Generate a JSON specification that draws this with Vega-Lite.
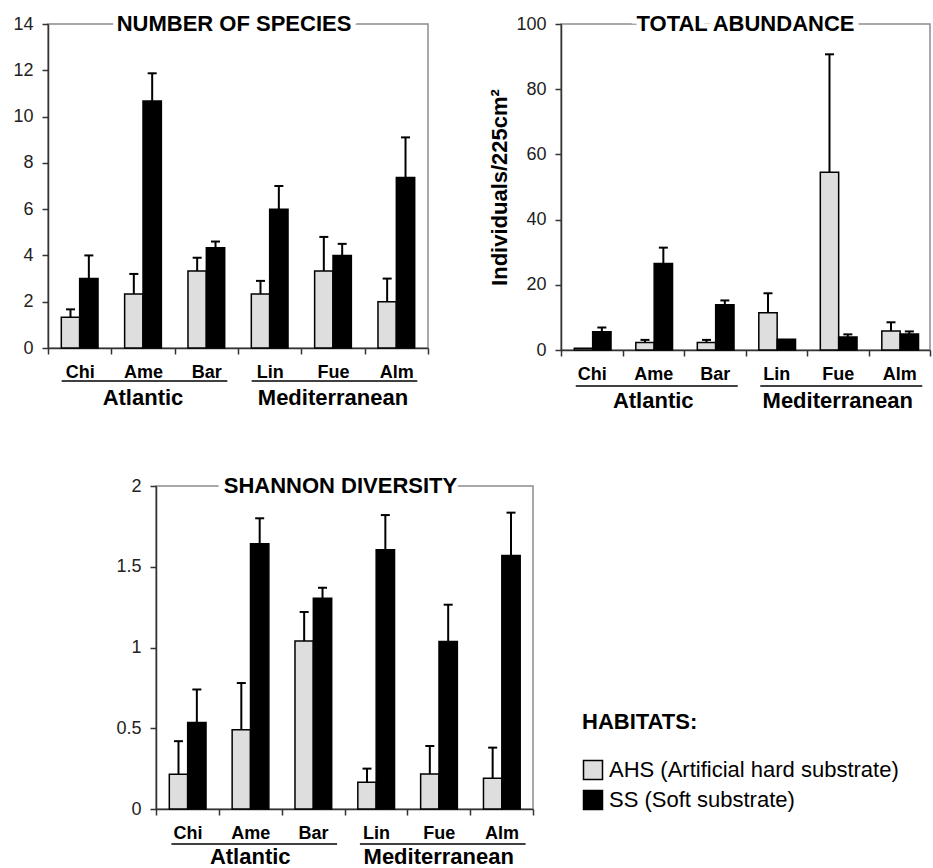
{
  "$schema": "https://vega.github.io/schema/vega-lite/v6.json",
  "background": "white",
  "padding": {"left": 12, "top": 12, "right": 0, "bottom": 0},
  "config": {
    "font": "Liberation Sans",
    "view": {"stroke": "#8c8c8c", "strokeWidth": 1.5},
    "axis": {"domainColor": "#333333", "tickColor": "#333333", "domainWidth": 1.5, "tickWidth": 1.5, "tickSize": 6, "grid": false, "labelColor": "#222222"},
    "axisY": {"labelFontSize": 18, "labelPadding": 9},
    "axisX": {"labelFontSize": 18, "labelFontWeight": "bold", "labelColor": "#000000", "labelPadding": 9, "labelAngle": 0, "tickBand": "extent"}
  },
  "datasets": {
    "bars": [
      {"metric": "species", "site": "Chi", "habitat": "AHS", "mean": 1.33, "upper": 1.67},
      {"metric": "species", "site": "Chi", "habitat": "SS", "mean": 3.0, "upper": 4.0},
      {"metric": "species", "site": "Ame", "habitat": "AHS", "mean": 2.33, "upper": 3.2},
      {"metric": "species", "site": "Ame", "habitat": "SS", "mean": 10.67, "upper": 11.87},
      {"metric": "species", "site": "Bar", "habitat": "AHS", "mean": 3.33, "upper": 3.9},
      {"metric": "species", "site": "Bar", "habitat": "SS", "mean": 4.33, "upper": 4.6},
      {"metric": "species", "site": "Lin", "habitat": "AHS", "mean": 2.33, "upper": 2.9},
      {"metric": "species", "site": "Lin", "habitat": "SS", "mean": 6.0, "upper": 7.0},
      {"metric": "species", "site": "Fue", "habitat": "AHS", "mean": 3.33, "upper": 4.8},
      {"metric": "species", "site": "Fue", "habitat": "SS", "mean": 4.0, "upper": 4.5},
      {"metric": "species", "site": "Alm", "habitat": "AHS", "mean": 2.0, "upper": 3.0},
      {"metric": "species", "site": "Alm", "habitat": "SS", "mean": 7.37, "upper": 9.1},
      {"metric": "abundance", "site": "Chi", "habitat": "AHS", "mean": 0.5, "upper": 0.5},
      {"metric": "abundance", "site": "Chi", "habitat": "SS", "mean": 5.6, "upper": 6.9},
      {"metric": "abundance", "site": "Ame", "habitat": "AHS", "mean": 2.3, "upper": 3.1},
      {"metric": "abundance", "site": "Ame", "habitat": "SS", "mean": 26.5, "upper": 31.4},
      {"metric": "abundance", "site": "Bar", "habitat": "AHS", "mean": 2.3, "upper": 3.1},
      {"metric": "abundance", "site": "Bar", "habitat": "SS", "mean": 13.9, "upper": 15.2},
      {"metric": "abundance", "site": "Lin", "habitat": "AHS", "mean": 11.4, "upper": 17.4},
      {"metric": "abundance", "site": "Lin", "habitat": "SS", "mean": 3.3, "upper": 3.3},
      {"metric": "abundance", "site": "Fue", "habitat": "AHS", "mean": 54.5, "upper": 90.7},
      {"metric": "abundance", "site": "Fue", "habitat": "SS", "mean": 4.0, "upper": 4.8},
      {"metric": "abundance", "site": "Alm", "habitat": "AHS", "mean": 5.8, "upper": 8.5},
      {"metric": "abundance", "site": "Alm", "habitat": "SS", "mean": 4.9, "upper": 5.7},
      {"metric": "shannon", "site": "Chi", "habitat": "AHS", "mean": 0.215, "upper": 0.42},
      {"metric": "shannon", "site": "Chi", "habitat": "SS", "mean": 0.535, "upper": 0.74},
      {"metric": "shannon", "site": "Ame", "habitat": "AHS", "mean": 0.49, "upper": 0.78},
      {"metric": "shannon", "site": "Ame", "habitat": "SS", "mean": 1.643, "upper": 1.8},
      {"metric": "shannon", "site": "Bar", "habitat": "AHS", "mean": 1.04, "upper": 1.22},
      {"metric": "shannon", "site": "Bar", "habitat": "SS", "mean": 1.305, "upper": 1.37},
      {"metric": "shannon", "site": "Lin", "habitat": "AHS", "mean": 0.165, "upper": 0.25},
      {"metric": "shannon", "site": "Lin", "habitat": "SS", "mean": 1.606, "upper": 1.82},
      {"metric": "shannon", "site": "Fue", "habitat": "AHS", "mean": 0.216, "upper": 0.39},
      {"metric": "shannon", "site": "Fue", "habitat": "SS", "mean": 1.037, "upper": 1.265},
      {"metric": "shannon", "site": "Alm", "habitat": "AHS", "mean": 0.19, "upper": 0.38},
      {"metric": "shannon", "site": "Alm", "habitat": "SS", "mean": 1.569, "upper": 1.835}
    ],
    "groups": [
      {"region": "Atlantic", "first": "Chi", "mid": "Ame", "last": "Bar"},
      {"region": "Mediterranean", "first": "Lin", "mid": "Fue", "last": "Alm"}
    ]
  },
  "bounds": "flush",
  "spacing": 462,
  "resolve": {"scale": {"fill": "independent"}},
  "vconcat": [
    {
      "bounds": "flush",
      "spacing": 133,
      "resolve": {"scale": {"fill": "independent"}},
      "hconcat": [
        {
          "width": 380, "height": 324,
          "layer": [
            {"data": {"name": "bars"}, "transform": [{"filter": "datum.metric == 'species'"}],
             "mark": {"type": "bar", "stroke": "#000000", "strokeWidth": 1.5},
             "encoding": {
               "x": {"field": "site", "type": "nominal", "scale": {"domain": ["Chi","Ame","Bar","Lin","Fue","Alm"], "paddingInner": 0, "paddingOuter": 0}, "axis": {"title": null}},
               "xOffset": {"field": "habitat", "type": "nominal", "scale": {"domain": ["AHS","SS"], "paddingInner": 0, "paddingOuter": 0.725}},
               "y": {"field": "mean", "type": "quantitative", "scale": {"domain": [0, 14], "nice": false}, "axis": {"title": null, "values": [0,2,4,6,8,10,12,14]}},
               "fill": {"field": "habitat", "type": "nominal", "scale": {"domain": ["AHS","SS"], "range": ["#dedede","#000000"]}, "legend": null}
             }},
            {"data": {"name": "bars"}, "transform": [{"filter": "datum.metric == 'species' && datum.upper > datum.mean"}],
             "mark": {"type": "rule", "color": "#000000", "strokeWidth": 2},
             "encoding": {
               "x": {"field": "site", "type": "nominal", "scale": {"domain": ["Chi","Ame","Bar","Lin","Fue","Alm"], "paddingInner": 0, "paddingOuter": 0}},
               "xOffset": {"field": "habitat", "type": "nominal", "scale": {"domain": ["AHS","SS"], "paddingInner": 0, "paddingOuter": 0.725}},
               "y": {"field": "mean", "type": "quantitative"},
               "y2": {"field": "upper"}
             }},
            {"data": {"name": "bars"}, "transform": [{"filter": "datum.metric == 'species' && datum.upper > datum.mean"}],
             "mark": {"type": "tick", "color": "#000000", "thickness": 2, "size": 9, "opacity": 1},
             "encoding": {
               "x": {"field": "site", "type": "nominal", "scale": {"domain": ["Chi","Ame","Bar","Lin","Fue","Alm"], "paddingInner": 0, "paddingOuter": 0}},
               "xOffset": {"field": "habitat", "type": "nominal", "scale": {"domain": ["AHS","SS"], "paddingInner": 0, "paddingOuter": 0.725}},
               "y": {"field": "upper", "type": "quantitative"}
             }},
            {"data": {"name": "groups"},
             "mark": {"type": "rule", "color": "#000000", "strokeWidth": 1.5, "xOffset": -18, "x2Offset": 21, "yOffset": 33},
             "encoding": {
               "x": {"field": "first", "type": "nominal", "scale": {"domain": ["Chi","Ame","Bar","Lin","Fue","Alm"], "paddingInner": 0, "paddingOuter": 0}},
               "x2": {"field": "last"},
               "y": {"value": "height"}
             }},
            {"data": {"name": "groups"},
             "mark": {"type": "text", "fontSize": 22, "fontWeight": "bold", "color": "#000000", "baseline": "middle", "yOffset": 50},
             "encoding": {
               "x": {"field": "mid", "type": "nominal", "scale": {"domain": ["Chi","Ame","Bar","Lin","Fue","Alm"], "paddingInner": 0, "paddingOuter": 0}},
               "y": {"value": "height"},
               "text": {"field": "region"}
             }},
            {"data": {"values": [{"t": "NUMBER OF SPECIES", "pos": "Lin"}]},
             "mark": {"type": "text", "fontSize": 22, "fontWeight": "bold", "color": "#ffffff", "stroke": "#ffffff", "strokeWidth": 10, "baseline": "middle", "dx": -4},
             "encoding": {
               "x": {"field": "pos", "type": "nominal", "bandPosition": 0, "scale": {"domain": ["Chi","Ame","Bar","Lin","Fue","Alm"], "paddingInner": 0, "paddingOuter": 0}},
               "y": {"value": 0},
               "text": {"field": "t"}
             }},
            {"data": {"values": [{"t": "NUMBER OF SPECIES", "pos": "Lin"}]},
             "mark": {"type": "text", "fontSize": 22, "fontWeight": "bold", "color": "#000000", "baseline": "middle", "dx": -4},
             "encoding": {
               "x": {"field": "pos", "type": "nominal", "bandPosition": 0, "scale": {"domain": ["Chi","Ame","Bar","Lin","Fue","Alm"], "paddingInner": 0, "paddingOuter": 0}},
               "y": {"value": 0},
               "text": {"field": "t"}
             }}
          ]
        },
        {
          "width": 369, "height": 326,
          "layer": [
            {"data": {"name": "bars"}, "transform": [{"filter": "datum.metric == 'abundance'"}],
             "mark": {"type": "bar", "stroke": "#000000", "strokeWidth": 1.5},
             "encoding": {
               "x": {"field": "site", "type": "nominal", "scale": {"domain": ["Chi","Ame","Bar","Lin","Fue","Alm"], "paddingInner": 0, "paddingOuter": 0}, "axis": {"title": null}},
               "xOffset": {"field": "habitat", "type": "nominal", "scale": {"domain": ["AHS","SS"], "paddingInner": 0, "paddingOuter": 0.725}},
               "y": {"field": "mean", "type": "quantitative", "scale": {"domain": [0, 100], "nice": false}, "axis": {"title": "Individuals/225cm²", "values": [0,20,40,60,80,100], "titleFontSize": 22, "titleFontWeight": "bold", "titleColor": "#000000", "titlePadding": 4}},
               "fill": {"field": "habitat", "type": "nominal", "scale": {"domain": ["AHS","SS"], "range": ["#dedede","#000000"]}, "legend": null}
             }},
            {"data": {"name": "bars"}, "transform": [{"filter": "datum.metric == 'abundance' && datum.upper > datum.mean"}],
             "mark": {"type": "rule", "color": "#000000", "strokeWidth": 2},
             "encoding": {
               "x": {"field": "site", "type": "nominal", "scale": {"domain": ["Chi","Ame","Bar","Lin","Fue","Alm"], "paddingInner": 0, "paddingOuter": 0}},
               "xOffset": {"field": "habitat", "type": "nominal", "scale": {"domain": ["AHS","SS"], "paddingInner": 0, "paddingOuter": 0.725}},
               "y": {"field": "mean", "type": "quantitative"},
               "y2": {"field": "upper"}
             }},
            {"data": {"name": "bars"}, "transform": [{"filter": "datum.metric == 'abundance' && datum.upper > datum.mean"}],
             "mark": {"type": "tick", "color": "#000000", "thickness": 2, "size": 9, "opacity": 1},
             "encoding": {
               "x": {"field": "site", "type": "nominal", "scale": {"domain": ["Chi","Ame","Bar","Lin","Fue","Alm"], "paddingInner": 0, "paddingOuter": 0}},
               "xOffset": {"field": "habitat", "type": "nominal", "scale": {"domain": ["AHS","SS"], "paddingInner": 0, "paddingOuter": 0.725}},
               "y": {"field": "upper", "type": "quantitative"}
             }},
            {"data": {"name": "groups"},
             "mark": {"type": "rule", "color": "#000000", "strokeWidth": 1.5, "xOffset": -16, "x2Offset": 23, "yOffset": 36},
             "encoding": {
               "x": {"field": "first", "type": "nominal", "scale": {"domain": ["Chi","Ame","Bar","Lin","Fue","Alm"], "paddingInner": 0, "paddingOuter": 0}},
               "x2": {"field": "last"},
               "y": {"value": "height"}
             }},
            {"data": {"name": "groups"},
             "mark": {"type": "text", "fontSize": 22, "fontWeight": "bold", "color": "#000000", "baseline": "middle", "yOffset": 51},
             "encoding": {
               "x": {"field": "mid", "type": "nominal", "scale": {"domain": ["Chi","Ame","Bar","Lin","Fue","Alm"], "paddingInner": 0, "paddingOuter": 0}},
               "y": {"value": "height"},
               "text": {"field": "region"}
             }},
            {"data": {"values": [{"t": "TOTAL ABUNDANCE", "pos": "Lin"}]},
             "mark": {"type": "text", "fontSize": 22, "fontWeight": "bold", "color": "#ffffff", "stroke": "#ffffff", "strokeWidth": 10, "baseline": "middle", "dx": 0},
             "encoding": {
               "x": {"field": "pos", "type": "nominal", "bandPosition": 0, "scale": {"domain": ["Chi","Ame","Bar","Lin","Fue","Alm"], "paddingInner": 0, "paddingOuter": 0}},
               "y": {"value": 0},
               "text": {"field": "t"}
             }},
            {"data": {"values": [{"t": "TOTAL ABUNDANCE", "pos": "Lin"}]},
             "mark": {"type": "text", "fontSize": 22, "fontWeight": "bold", "color": "#000000", "baseline": "middle", "dx": 0},
             "encoding": {
               "x": {"field": "pos", "type": "nominal", "bandPosition": 0, "scale": {"domain": ["Chi","Ame","Bar","Lin","Fue","Alm"], "paddingInner": 0, "paddingOuter": 0}},
               "y": {"value": 0},
               "text": {"field": "t"}
             }}
          ]
        }
      ]
    },
    {
      "bounds": "flush",
      "spacing": 5,
      "resolve": {"scale": {"fill": "independent"}},
      "hconcat": [
        {"width": 103, "height": 10, "view": {"stroke": null}, "data": {"values": []}, "mark": "point"},
        {
          "width": 377, "height": 323,
          "layer": [
            {"data": {"name": "bars"}, "transform": [{"filter": "datum.metric == 'shannon'"}],
             "mark": {"type": "bar", "stroke": "#000000", "strokeWidth": 1.5},
             "encoding": {
               "x": {"field": "site", "type": "nominal", "scale": {"domain": ["Chi","Ame","Bar","Lin","Fue","Alm"], "paddingInner": 0, "paddingOuter": 0}, "axis": {"title": null}},
               "xOffset": {"field": "habitat", "type": "nominal", "scale": {"domain": ["AHS","SS"], "paddingInner": 0, "paddingOuter": 0.725}},
               "y": {"field": "mean", "type": "quantitative", "scale": {"domain": [0, 2], "nice": false}, "axis": {"title": null, "values": [0,0.5,1,1.5,2], "format": "~g"}},
               "fill": {"field": "habitat", "type": "nominal", "scale": {"domain": ["AHS","SS"], "range": ["#dedede","#000000"]},
                        "legend": {"orient": "none", "legendX": 426, "legendY": 226, "title": "HABITATS:", "titleFontSize": 22, "titleFontWeight": "bold", "titleColor": "#000000", "titlePadding": 25,
                                   "symbolType": "square", "symbolSize": 361, "symbolStrokeColor": "#000000", "symbolStrokeWidth": 1.5, "symbolOpacity": 1,
                                   "labelFontSize": 22, "labelColor": "#000000", "labelOffset": 5, "rowPadding": 4, "labelLimit": 0,
                                   "labelExpr": "datum.label == 'AHS' ? 'AHS (Artificial hard substrate)' : 'SS (Soft substrate)'"}}
             }},
            {"data": {"name": "bars"}, "transform": [{"filter": "datum.metric == 'shannon' && datum.upper > datum.mean"}],
             "mark": {"type": "rule", "color": "#000000", "strokeWidth": 2},
             "encoding": {
               "x": {"field": "site", "type": "nominal", "scale": {"domain": ["Chi","Ame","Bar","Lin","Fue","Alm"], "paddingInner": 0, "paddingOuter": 0}},
               "xOffset": {"field": "habitat", "type": "nominal", "scale": {"domain": ["AHS","SS"], "paddingInner": 0, "paddingOuter": 0.725}},
               "y": {"field": "mean", "type": "quantitative"},
               "y2": {"field": "upper"}
             }},
            {"data": {"name": "bars"}, "transform": [{"filter": "datum.metric == 'shannon' && datum.upper > datum.mean"}],
             "mark": {"type": "tick", "color": "#000000", "thickness": 2, "size": 9, "opacity": 1},
             "encoding": {
               "x": {"field": "site", "type": "nominal", "scale": {"domain": ["Chi","Ame","Bar","Lin","Fue","Alm"], "paddingInner": 0, "paddingOuter": 0}},
               "xOffset": {"field": "habitat", "type": "nominal", "scale": {"domain": ["AHS","SS"], "paddingInner": 0, "paddingOuter": 0.725}},
               "y": {"field": "upper", "type": "quantitative"}
             }},
            {"data": {"name": "groups"},
             "mark": {"type": "rule", "color": "#000000", "strokeWidth": 1.5, "xOffset": -16, "x2Offset": 24, "yOffset": 35},
             "encoding": {
               "x": {"field": "first", "type": "nominal", "scale": {"domain": ["Chi","Ame","Bar","Lin","Fue","Alm"], "paddingInner": 0, "paddingOuter": 0}},
               "x2": {"field": "last"},
               "y": {"value": "height"}
             }},
            {"data": {"name": "groups"},
             "mark": {"type": "text", "fontSize": 22, "fontWeight": "bold", "color": "#000000", "baseline": "middle", "yOffset": 48},
             "encoding": {
               "x": {"field": "mid", "type": "nominal", "scale": {"domain": ["Chi","Ame","Bar","Lin","Fue","Alm"], "paddingInner": 0, "paddingOuter": 0}},
               "y": {"value": "height"},
               "text": {"field": "region"}
             }},
            {"data": {"values": [{"t": "SHANNON DIVERSITY", "pos": "Lin"}]},
             "mark": {"type": "text", "fontSize": 22, "fontWeight": "bold", "color": "#ffffff", "stroke": "#ffffff", "strokeWidth": 10, "baseline": "middle", "dx": -4},
             "encoding": {
               "x": {"field": "pos", "type": "nominal", "bandPosition": 0, "scale": {"domain": ["Chi","Ame","Bar","Lin","Fue","Alm"], "paddingInner": 0, "paddingOuter": 0}},
               "y": {"value": 0},
               "text": {"field": "t"}
             }},
            {"data": {"values": [{"t": "SHANNON DIVERSITY", "pos": "Lin"}]},
             "mark": {"type": "text", "fontSize": 22, "fontWeight": "bold", "color": "#000000", "baseline": "middle", "dx": -4},
             "encoding": {
               "x": {"field": "pos", "type": "nominal", "bandPosition": 0, "scale": {"domain": ["Chi","Ame","Bar","Lin","Fue","Alm"], "paddingInner": 0, "paddingOuter": 0}},
               "y": {"value": 0},
               "text": {"field": "t"}
             }}
          ]
        }
      ]
    }
  ]
}
